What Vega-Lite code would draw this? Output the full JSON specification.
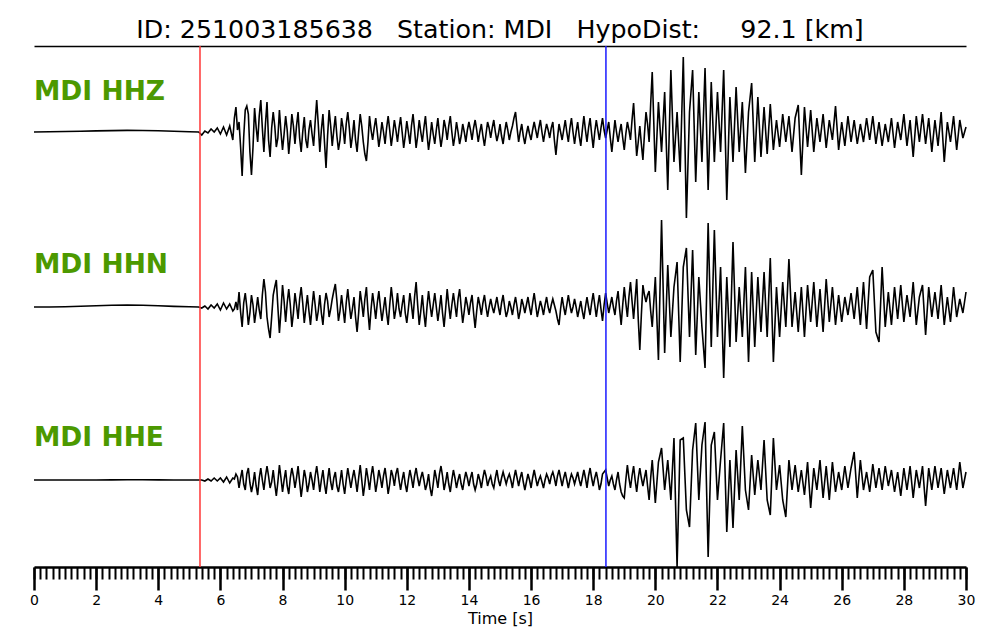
{
  "$schema": "https://vega.github.io/schema/vega-lite/v6.json",
  "width": 932,
  "height": 521,
  "autosize": {"type": "none"},
  "padding": {"left": 34, "top": 46, "right": 34, "bottom": 73},
  "background": "white",
  "config": {"view": {"stroke": null}, "font": "DejaVu Sans"},
  "title": {
    "text": "ID: 251003185638\u00a0\u00a0\u00a0Station: MDI\u00a0\u00a0\u00a0HypoDist:\u00a0\u00a0\u00a0\u00a0\u00a092.1 [km]",
    "font": "DejaVu Sans", "fontSize": 25.3, "fontWeight": "normal", "color": "black",
    "anchor": "middle", "offset": 2
  },
  "data": {"values": [
    {"t":0,"z":0,"n":0,"e":0},{"t":0.5,"z":0.2,"n":0,"e":0},{"t":1,"z":0.5,"n":0.3,"e":0},{"t":1.5,"z":0.8,"n":0.8,"e":0},
    {"t":2,"z":1.1,"n":1.3,"e":0},{"t":2.5,"z":1.4,"n":1.8,"e":0.1},{"t":3,"z":1.6,"n":2,"e":0.2},{"t":3.5,"z":1.5,"n":1.8,"e":0.2},
    {"t":4,"z":1.2,"n":1.2,"e":0.1},{"t":4.5,"z":0.8,"n":0.6,"e":0},{"t":5,"z":0.3,"n":0.2,"e":0},{"t":5.3,"z":0,"n":0,"e":0},
    {"t":5.4,"z":-3,"n":-1,"e":0},{"t":5.5,"z":1,"n":1,"e":-1},{"t":5.6,"z":-1,"n":-2,"e":1},{"t":5.7,"z":3,"n":2,"e":-1},{"t":5.8,"z":0,"n":-1,"e":2},{"t":5.9,"z":4,"n":3,"e":-1},
    {"t":6.0,"z":-2,"n":-3,"e":2},{"t":6.1,"z":5,"n":4,"e":-2},{"t":6.2,"z":-3,"n":-2,"e":3},{"t":6.3,"z":6,"n":3,"e":-3},{"t":6.4,"z":-8,"n":-4,"e":2},{"t":6.5,"z":25,"n":5,"e":6},{"t":6.6,"z":10,"n":15,"e":-8},{"t":6.7,"z":-44,"n":-20,"e":10},{"t":6.8,"z":22,"n":14,"e":-10},{"t":6.9,"z":18,"n":-18,"e":12},
    {"t":7.0,"z":-43,"n":12,"e":-12},{"t":7.1,"z":24,"n":-16,"e":8},{"t":7.2,"z":-10,"n":10,"e":-15},{"t":7.3,"z":32,"n":-12,"e":12},{"t":7.4,"z":-20,"n":28,"e":-10},{"t":7.5,"z":30,"n":-10,"e":14},{"t":7.6,"z":-25,"n":-31,"e":-8},{"t":7.7,"z":20,"n":12,"e":10},{"t":7.8,"z":-15,"n":27,"e":-16},{"t":7.9,"z":22,"n":-26,"e":15},
    {"t":8.0,"z":-18,"n":22,"e":-12},{"t":8.1,"z":16,"n":-15,"e":10},{"t":8.2,"z":-22,"n":18,"e":-14},{"t":8.3,"z":18,"n":-20,"e":12},{"t":8.4,"z":-12,"n":14,"e":-8},{"t":8.5,"z":20,"n":-12,"e":14},{"t":8.6,"z":-20,"n":20,"e":-17},{"t":8.7,"z":15,"n":-16,"e":10},{"t":8.8,"z":-16,"n":12,"e":-12},{"t":8.9,"z":12,"n":-18,"e":8},
    {"t":9.0,"z":-14,"n":16,"e":-10},{"t":9.1,"z":32,"n":-14,"e":14},{"t":9.2,"z":-20,"n":12,"e":-12},{"t":9.3,"z":18,"n":-18,"e":10},{"t":9.4,"z":-36,"n":14,"e":-14},{"t":9.5,"z":22,"n":-10,"e":12},{"t":9.6,"z":-14,"n":8,"e":-10},{"t":9.7,"z":16,"n":23,"e":8},{"t":9.8,"z":-18,"n":-14,"e":-12},{"t":9.9,"z":14,"n":12,"e":10},
    {"t":10.0,"z":-12,"n":-16,"e":-14},{"t":10.1,"z":20,"n":18,"e":12},{"t":10.2,"z":-16,"n":-12,"e":-8},{"t":10.3,"z":12,"n":10,"e":10},{"t":10.4,"z":-20,"n":-25,"e":-12},{"t":10.5,"z":18,"n":16,"e":15},{"t":10.6,"z":-10,"n":-10,"e":-16},{"t":10.7,"z":-29,"n":20,"e":12},{"t":10.8,"z":16,"n":-23,"e":-10},{"t":10.9,"z":-8,"n":14,"e":14},
    {"t":11.0,"z":14,"n":-12,"e":-12},{"t":11.1,"z":-15,"n":16,"e":10},{"t":11.2,"z":10,"n":-14,"e":-8},{"t":11.3,"z":-12,"n":10,"e":12},{"t":11.4,"z":16,"n":-18,"e":-14},{"t":11.5,"z":-14,"n":20,"e":10},{"t":11.6,"z":12,"n":-12,"e":-6},{"t":11.7,"z":-10,"n":14,"e":12},{"t":11.8,"z":15,"n":-10,"e":-10},{"t":11.9,"z":-16,"n":12,"e":8},
    {"t":12.0,"z":11,"n":-16,"e":-12},{"t":12.1,"z":-12,"n":14,"e":10},{"t":12.2,"z":18,"n":-12,"e":-8},{"t":12.3,"z":-16,"n":25,"e":12},{"t":12.4,"z":12,"n":-18,"e":-6},{"t":12.5,"z":-10,"n":12,"e":8},{"t":12.6,"z":16,"n":-20,"e":-10},{"t":12.7,"z":-18,"n":16,"e":6},{"t":12.8,"z":10,"n":-10,"e":-16},{"t":12.9,"z":-12,"n":14,"e":10},
    {"t":13.0,"z":14,"n":-14,"e":-8},{"t":13.1,"z":-15,"n":12,"e":14},{"t":13.2,"z":12,"n":-20,"e":-10},{"t":13.3,"z":-8,"n":18,"e":8},{"t":13.4,"z":16,"n":-12,"e":-12},{"t":13.5,"z":-14,"n":14,"e":10},{"t":13.6,"z":10,"n":-10,"e":-8},{"t":13.7,"z":-12,"n":18,"e":6},{"t":13.8,"z":8,"n":-16,"e":-10},{"t":13.9,"z":-10,"n":10,"e":8},
    {"t":14.0,"z":10,"n":-8,"e":-6},{"t":14.1,"z":-8,"n":12,"e":8},{"t":14.2,"z":12,"n":-21,"e":-10},{"t":14.3,"z":-10,"n":10,"e":6},{"t":14.4,"z":8,"n":-8,"e":-8},{"t":14.5,"z":-14,"n":12,"e":10},{"t":14.6,"z":10,"n":-10,"e":-6},{"t":14.7,"z":-6,"n":8,"e":4},{"t":14.8,"z":12,"n":-6,"e":-8},{"t":14.9,"z":-9,"n":10,"e":10},
    {"t":15.0,"z":8,"n":-8,"e":-6},{"t":15.1,"z":-12,"n":12,"e":8},{"t":15.2,"z":10,"n":-10,"e":-4},{"t":15.3,"z":-8,"n":6,"e":6},{"t":15.4,"z":6,"n":-8,"e":-8},{"t":15.5,"z":20,"n":10,"e":10},{"t":15.6,"z":-10,"n":-12,"e":-6},{"t":15.7,"z":8,"n":8,"e":8},{"t":15.8,"z":-12,"n":-6,"e":-10},{"t":15.9,"z":6,"n":10,"e":6},
    {"t":16.0,"z":-8,"n":-8,"e":-8},{"t":16.1,"z":10,"n":14,"e":10},{"t":16.2,"z":-6,"n":-10,"e":-6},{"t":16.3,"z":12,"n":6,"e":4},{"t":16.4,"z":-10,"n":-8,"e":-8},{"t":16.5,"z":8,"n":10,"e":6},{"t":16.6,"z":-6,"n":-6,"e":-4},{"t":16.7,"z":10,"n":8,"e":8},{"t":16.8,"z":-23,"n":-4,"e":-6},{"t":16.9,"z":8,"n":-18,"e":10},
    {"t":17.0,"z":-8,"n":10,"e":-6},{"t":17.1,"z":12,"n":-8,"e":8},{"t":17.2,"z":-10,"n":12,"e":-8},{"t":17.3,"z":14,"n":-6,"e":6},{"t":17.4,"z":-12,"n":8,"e":-4},{"t":17.5,"z":10,"n":-10,"e":8},{"t":17.6,"z":-14,"n":6,"e":-6},{"t":17.7,"z":16,"n":-12,"e":10},{"t":17.8,"z":-10,"n":10,"e":-8},{"t":17.9,"z":14,"n":-8,"e":12},
    {"t":18.0,"z":-16,"n":14,"e":-6},{"t":18.1,"z":12,"n":-10,"e":8},{"t":18.2,"z":-8,"n":12,"e":-10},{"t":18.3,"z":14,"n":-14,"e":6},{"t":18.4,"z":-6,"n":14,"e":10},{"t":18.5,"z":10,"n":-6,"e":-6},{"t":18.6,"z":-20,"n":10,"e":4},{"t":18.7,"z":12,"n":-8,"e":-10},{"t":18.8,"z":-10,"n":16,"e":8},{"t":18.9,"z":8,"n":-18,"e":-12},
    {"t":19.0,"z":-18,"n":20,"e":-18},{"t":19.1,"z":10,"n":-10,"e":15},{"t":19.2,"z":-8,"n":25,"e":-8},{"t":19.3,"z":29,"n":-12,"e":14},{"t":19.4,"z":-24,"n":28,"e":-12},{"t":19.5,"z":6,"n":-43,"e":12},{"t":19.6,"z":-28,"n":22,"e":-6},{"t":19.7,"z":20,"n":5,"e":10},{"t":19.8,"z":-10,"n":16,"e":-20},{"t":19.9,"z":60,"n":-20,"e":20},
    {"t":20.0,"z":-40,"n":30,"e":-23},{"t":20.1,"z":30,"n":-53,"e":18},{"t":20.2,"z":-20,"n":87,"e":32},{"t":20.3,"z":40,"n":-46,"e":-10},{"t":20.4,"z":-58,"n":42,"e":20},{"t":20.5,"z":62,"n":-30,"e":-20},{"t":20.6,"z":-30,"n":20,"e":42},{"t":20.7,"z":20,"n":45,"e":-87},{"t":20.8,"z":-40,"n":-55,"e":40},{"t":20.9,"z":75,"n":40,"e":42},
    {"t":21.0,"z":-86,"n":59,"e":-30},{"t":21.1,"z":20,"n":-30,"e":-47},{"t":21.2,"z":62,"n":57,"e":30},{"t":21.3,"z":-50,"n":-48,"e":57},{"t":21.4,"z":40,"n":30,"e":-20},{"t":21.5,"z":-30,"n":-20,"e":35},{"t":21.6,"z":64,"n":-61,"e":58},{"t":21.7,"z":-58,"n":84,"e":-77},{"t":21.8,"z":50,"n":-40,"e":35},{"t":21.9,"z":-30,"n":77,"e":48},
    {"t":22.0,"z":40,"n":-30,"e":-20},{"t":22.1,"z":-20,"n":40,"e":20},{"t":22.2,"z":62,"n":-71,"e":57},{"t":22.3,"z":-68,"n":30,"e":-52},{"t":22.4,"z":35,"n":-40,"e":20},{"t":22.5,"z":-30,"n":65,"e":-48},{"t":22.6,"z":45,"n":-35,"e":30},{"t":22.7,"z":-20,"n":20,"e":-20},{"t":22.8,"z":30,"n":-30,"e":54},{"t":22.9,"z":-41,"n":40,"e":-10},
    {"t":23.0,"z":20,"n":-55,"e":-30},{"t":23.1,"z":49,"n":35,"e":25},{"t":23.2,"z":-30,"n":-40,"e":-15},{"t":23.3,"z":35,"n":30,"e":20},{"t":23.4,"z":-25,"n":-25,"e":-10},{"t":23.5,"z":25,"n":35,"e":40},{"t":23.6,"z":-22,"n":-30,"e":-20},{"t":23.7,"z":28,"n":49,"e":-35},{"t":23.8,"z":-18,"n":-55,"e":42},{"t":23.9,"z":12,"n":20,"e":-10},
    {"t":24.0,"z":-15,"n":-30,"e":15},{"t":24.1,"z":18,"n":25,"e":-20},{"t":24.2,"z":-10,"n":-20,"e":-37},{"t":24.3,"z":16,"n":48,"e":20},{"t":24.4,"z":-20,"n":-20,"e":-10},{"t":24.5,"z":14,"n":15,"e":15},{"t":24.6,"z":27,"n":-25,"e":-12},{"t":24.7,"z":-43,"n":20,"e":10},{"t":24.8,"z":25,"n":-30,"e":-15},{"t":24.9,"z":-15,"n":22,"e":18},
    {"t":25.0,"z":22,"n":-15,"e":-28},{"t":25.1,"z":-20,"n":25,"e":12},{"t":25.2,"z":14,"n":-20,"e":-10},{"t":25.3,"z":-10,"n":18,"e":20},{"t":25.4,"z":18,"n":-25,"e":-18},{"t":25.5,"z":-16,"n":28,"e":14},{"t":25.6,"z":12,"n":-15,"e":-20},{"t":25.7,"z":-8,"n":20,"e":18},{"t":25.8,"z":26,"n":-18,"e":-12},{"t":25.9,"z":-18,"n":12,"e":8},
    {"t":26.0,"z":10,"n":-15,"e":-10},{"t":26.1,"z":-14,"n":10,"e":14},{"t":26.2,"z":16,"n":-8,"e":-8},{"t":26.3,"z":-10,"n":14,"e":12},{"t":26.4,"z":12,"n":-12,"e":28},{"t":26.5,"z":-12,"n":20,"e":-18},{"t":26.6,"z":8,"n":-18,"e":20},{"t":26.7,"z":-10,"n":25,"e":-10},{"t":26.8,"z":14,"n":-22,"e":8},{"t":26.9,"z":-8,"n":30,"e":-12},
    {"t":27.0,"z":16,"n":37,"e":16},{"t":27.1,"z":-12,"n":-25,"e":-8},{"t":27.2,"z":10,"n":-35,"e":12},{"t":27.3,"z":-14,"n":40,"e":-10},{"t":27.4,"z":8,"n":-20,"e":14},{"t":27.5,"z":-10,"n":15,"e":-6},{"t":27.6,"z":14,"n":-18,"e":10},{"t":27.7,"z":-16,"n":20,"e":-12},{"t":27.8,"z":10,"n":-12,"e":8},{"t":27.9,"z":-8,"n":22,"e":-16},
    {"t":28.0,"z":18,"n":-15,"e":12},{"t":28.1,"z":-14,"n":12,"e":-10},{"t":28.2,"z":12,"n":-10,"e":14},{"t":28.3,"z":-25,"n":25,"e":-18},{"t":28.4,"z":16,"n":-18,"e":10},{"t":28.5,"z":-10,"n":10,"e":-8},{"t":28.6,"z":18,"n":22,"e":14},{"t":28.7,"z":-12,"n":-28,"e":-26},{"t":28.8,"z":14,"n":20,"e":12},{"t":28.9,"z":-20,"n":-10,"e":-10},
    {"t":29.0,"z":12,"n":15,"e":14},{"t":29.1,"z":-14,"n":-12,"e":-8},{"t":29.2,"z":20,"n":22,"e":12},{"t":29.3,"z":-30,"n":-18,"e":-14},{"t":29.4,"z":10,"n":10,"e":10},{"t":29.5,"z":-10,"n":-15,"e":-8},{"t":29.6,"z":16,"n":20,"e":12},{"t":29.7,"z":-18,"n":-10,"e":-10},{"t":29.8,"z":12,"n":8,"e":18},{"t":29.9,"z":-6,"n":-6,"e":-8},
    {"t":30.0,"z":5,"n":15,"e":8},
    {"t":6.45,"z":14,"n":-2,"e":1},{"t":6.55,"z":2,"n":-3,"e":3},{"t":6.65,"z":-15,"n":-5,"e":2},{"t":6.75,"z":-5,"n":4,"e":-4},{"t":6.85,"z":26,"n":0,"e":6},{"t":6.95,"z":-20,"n":-6,"e":-3},
    {"t":7.05,"z":-15,"n":2,"e":-4},{"t":7.15,"z":5,"n":-4,"e":-6},{"t":7.25,"z":16,"n":-3,"e":2},{"t":7.35,"z":4,"n":12,"e":0},{"t":7.45,"z":8,"n":15,"e":4},{"t":7.55,"z":-8,"n":-22,"e":4},{"t":7.65,"z":4,"n":-10,"e":-2},{"t":7.75,"z":6,"n":20,"e":-4},{"t":7.85,"z":-6,"n":0,"e":-2},{"t":7.95,"z":0,"n":-4,"e":2},
    {"t":8.05,"z":-2,"n":6,"e":0},{"t":8.15,"z":2,"n":4,"e":-6},{"t":8.25,"z":-4,"n":2,"e":2},{"t":8.35,"z":6,"n":-6,"e":4},{"t":8.45,"z":6,"n":2,"e":2},{"t":8.55,"z":-6,"n":8,"e":-2},{"t":8.65,"z":0,"n":4,"e":-4},{"t":8.75,"z":-8,"n":-2,"e":2},{"t":8.85,"z":2,"n":-4,"e":-4},{"t":8.95,"z":-2,"n":0,"e":0},
    {"t":9.05,"z":10,"n":2,"e":4},{"t":9.15,"z":8,"n":-4,"e":2},{"t":9.25,"z":2,"n":-6,"e":0},{"t":9.35,"z":-10,"n":2,"e":-4},{"t":9.45,"z":-4,"n":6,"e":0},{"t":9.55,"z":6,"n":-2,"e":-2},{"t":9.65,"z":2,"n":16,"e":2},{"t":9.75,"z":-4,"n":6,"e":-6},{"t":9.85,"z":-8,"n":-4,"e":-2},{"t":9.95,"z":4,"n":-2,"e":-4},
    {"t":10.05,"z":8,"n":4,"e":0},{"t":10.15,"z":4,"n":2,"e":2},{"t":10.25,"z":-4,"n":-2,"e":2},{"t":10.35,"z":-8,"n":-10,"e":0},{"t":10.45,"z":0,"n":-6,"e":2},{"t":10.55,"z":6,"n":4,"e":0},{"t":10.65,"z":-22,"n":8,"e":-4},{"t":10.75,"z":-10,"n":-4,"e":2},{"t":10.85,"z":2,"n":-2,"e":4},{"t":10.95,"z":4,"n":2,"e":2},
    {"t":11.05,"z":0,"n":4,"e":-2},{"t":11.15,"z":-4,"n":0,"e":2},{"t":11.25,"z":0,"n":-2,"e":4},{"t":11.35,"z":4,"n":-6,"e":0},{"t":11.45,"z":2,"n":2,"e":-4},{"t":11.55,"z":-2,"n":6,"e":4},{"t":11.65,"z":2,"n":-2,"e":6},{"t":11.75,"z":4,"n":-2,"e":0},{"t":11.85,"z":0,"n":2,"e":0},{"t":11.95,"z":-4,"n":-6,"e":-4},
    {"t":12.05,"z":0,"n":-2,"e":0},{"t":12.15,"z":6,"n":2,"e":2},{"t":12.25,"z":2,"n":10,"e":4},{"t":12.35,"z":-4,"n":2,"e":2},{"t":12.45,"z":0,"n":-4,"e":2},{"t":12.55,"z":4,"n":-6,"e":0},{"t":12.65,"z":-2,"n":0,"e":-4},{"t":12.75,"z":-6,"n":2,"e":-8},{"t":12.85,"z":-2,"n":2,"e":-4},{"t":12.95,"z":2,"n":0,"e":2},
    {"t":13.05,"z":-2,"n":-2,"e":6},{"t":13.15,"z":-4,"n":-6,"e":4},{"t":13.25,"z":4,"n":-2,"e":-2},{"t":13.35,"z":6,"n":2,"e":-4},{"t":13.45,"z":0,"n":2,"e":0},{"t":13.55,"z":-4,"n":2,"e":2},{"t":13.65,"z":0,"n":8,"e":0},{"t":13.75,"z":-4,"n":0,"e":-4},{"t":13.85,"z":0,"n":-4,"e":0},{"t":13.95,"z":2,"n":2,"e":2},
    {"t":14.05,"z":2,"n":4,"e":2},{"t":14.15,"z":4,"n":-6,"e":-4},{"t":14.25,"z":2,"n":-4,"e":-4},{"t":14.35,"z":0,"n":2,"e":0},{"t":14.45,"z":-4,"n":4,"e":2},{"t":14.55,"z":-2,"n":0,"e":4},{"t":14.65,"z":4,"n":0,"e":0},{"t":14.75,"z":4,"n":0,"e":-4},{"t":14.85,"z":0,"n":2,"e":2},{"t":14.95,"z":-2,"n":0,"e":0},
    {"t":15.05,"z":-4,"n":4,"e":2},{"t":15.15,"z":0,"n":0,"e":2},{"t":15.25,"z":2,"n":-4,"e":2},{"t":15.35,"z":0,"n":0,"e":0},{"t":15.45,"z":14,"n":2,"e":2},{"t":15.55,"z":4,"n":0,"e":2},{"t":15.65,"z":0,"n":-4,"e":2},{"t":15.75,"z":-4,"n":2,"e":-2},{"t":15.85,"z":-2,"n":2,"e":-2},{"t":15.95,"z":-2,"n":0,"e":0},
    {"t":16.05,"z":2,"n":4,"e":2},{"t":16.15,"z":2,"n":2,"e":2},{"t":16.25,"z":4,"n":-2,"e":0},{"t":16.35,"z":0,"n":0,"e":-2},{"t":16.45,"z":0,"n":2,"e":0},{"t":16.55,"z":2,"n":0,"e":2},{"t":16.65,"z":4,"n":2,"e":4},{"t":16.75,"z":-8,"n":2,"e":2},{"t":16.85,"z":-6,"n":-12,"e":4},{"t":16.95,"z":0,"n":-2,"e":2},
    {"t":17.05,"z":2,"n":0,"e":2},{"t":17.15,"z":0,"n":2,"e":0},{"t":17.25,"z":4,"n":2,"e":0},{"t":17.35,"z":0,"n":0,"e":2},{"t":17.45,"z":0,"n":0,"e":2},{"t":17.55,"z":-4,"n":-2,"e":0},{"t":17.65,"z":2,"n":-4,"e":2},{"t":17.75,"z":2,"n":0,"e":2},{"t":17.85,"z":4,"n":0,"e":4},{"t":17.95,"z":-2,"n":4,"e":2},
    {"t":18.05,"z":0,"n":2,"e":2},{"t":18.15,"z":2,"n":2,"e":0},{"t":18.25,"z":4,"n":-2,"e":-4},{"t":18.35,"z":2,"n":2,"e":8},{"t":18.45,"z":2,"n":4,"e":2},{"t":18.55,"z":-6,"n":2,"e":0},{"t":18.65,"z":-4,"n":0,"e":-4},{"t":18.75,"z":0,"n":6,"e":0},{"t":18.85,"z":0,"n":-2,"e":-4},{"t":18.95,"z":-6,"n":2,"e":-16},
    {"t":19.05,"z":-2,"n":4,"e":0},{"t":19.15,"z":2,"n":10,"e":2},{"t":19.25,"z":12,"n":6,"e":4},{"t":19.35,"z":2,"n":8,"e":0},{"t":19.45,"z":-10,"n":-12,"e":2},{"t":19.55,"z":-12,"n":-8,"e":2},{"t":19.65,"z":-2,"n":12,"e":2},{"t":19.75,"z":8,"n":12,"e":-6},{"t":19.85,"z":28,"n":-4,"e":2}
  ]},
  "layer": [
    {
      "mark": {"type": "line", "color": "black", "strokeWidth": 1.6},
      "encoding": {
        "x": {"field": "t", "type": "quantitative", "scale": {"domain": [0, 30], "nice": false, "zero": false},
          "axis": {"orient": "bottom", "values": [0,2,4,6,8,10,12,14,16,18,20,22,24,26,28,30], "format": "d",
            "tickSize": 23, "tickWidth": 2.5, "tickColor": "black", "domainColor": "black", "domainWidth": 2.5,
            "labelFont": "DejaVu Sans", "labelFontSize": 14, "labelColor": "black", "labelPadding": 3, "labelFlush": false,
            "title": "Time [s]", "titleFont": "DejaVu Sans", "titleFontSize": 16, "titleFontWeight": "normal", "titleColor": "black", "titlePadding": 3,
            "grid": false}},
        "y": {"field": "z", "type": "quantitative", "scale": {"domain": [-435, 86], "nice": false, "zero": false}, "axis": null}
      }
    },
    {
      "mark": {"type": "line", "color": "black", "strokeWidth": 1.6},
      "encoding": {
        "x": {"field": "t", "type": "quantitative",
          "axis": {"orient": "bottom", "tickCount": 150, "labels": false, "domain": false, "tickSize": 12, "tickWidth": 2, "tickColor": "black", "title": null, "grid": false}},
        "y": {"field": "n", "type": "quantitative", "scale": {"domain": [-260, 261], "nice": false, "zero": false}, "axis": null}
      }
    },
    {
      "mark": {"type": "line", "color": "black", "strokeWidth": 1.6},
      "encoding": {
        "x": {"field": "t", "type": "quantitative", "axis": null},
        "y": {"field": "e", "type": "quantitative", "scale": {"domain": [-87, 434], "nice": false, "zero": false}, "axis": null}
      }
    },
    {
      "data": {"values": [{"t": 5.343, "ph": "P"}, {"t": 18.41, "ph": "S"}]},
      "mark": {"type": "rule", "strokeWidth": 1.5},
      "encoding": {
        "x": {"field": "t", "type": "quantitative",
          "axis": {"orient": "top", "labels": false, "ticks": false, "domain": true, "domainColor": "black", "domainWidth": 1.5, "title": null, "grid": false}},
        "color": {"field": "ph", "type": "nominal", "scale": {"domain": ["P", "S"], "range": ["#ff3535", "#1a1aff"]}, "legend": null}
      }
    },
    {
      "data": {"values": [{"lab": "MDI HHZ", "h": 475}, {"lab": "MDI HHN", "h": 302}, {"lab": "MDI HHE", "h": 129}]},
      "mark": {"type": "text", "align": "left", "baseline": "middle", "font": "DejaVu Sans", "fontSize": 26.5, "fontWeight": "bold", "color": "#4c9900"},
      "encoding": {
        "x": {"datum": 0, "type": "quantitative", "axis": null},
        "y": {"field": "h", "type": "quantitative", "scale": {"domain": [0, 521], "nice": false, "zero": false}, "axis": null},
        "text": {"field": "lab"}
      }
    }
  ],
  "resolve": {"scale": {"y": "independent"}, "axis": {"x": "independent"}}
}
